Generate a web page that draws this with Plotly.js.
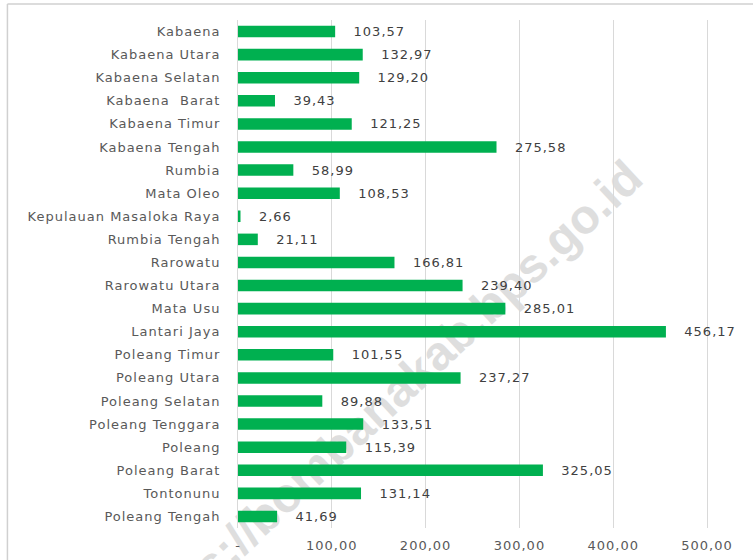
<!DOCTYPE html>
<html>
<head>
<meta charset="utf-8">
<script src="https://cdn.plot.ly/plotly-3.0.1.min.js"></script>
<style>
  html, body { margin: 0; padding: 0; background: #ffffff; }
  #chart { width: 753px; height: 560px; }
  .ytick text, .xtick text, text.bartext { letter-spacing: 1px; }
</style>
</head>
<body>
<div id="chart"></div>
<script>
const categories = [
  'Kabaena', 'Kabaena Utara', 'Kabaena Selatan', 'Kabaena  Barat', 'Kabaena Timur',
  'Kabaena Tengah', 'Rumbia', 'Mata Oleo', 'Kepulauan Masaloka Raya', 'Rumbia Tengah',
  'Rarowatu', 'Rarowatu Utara', 'Mata Usu', 'Lantari Jaya', 'Poleang Timur',
  'Poleang Utara', 'Poleang Selatan', 'Poleang Tenggara', 'Poleang', 'Poleang Barat',
  'Tontonunu', 'Poleang Tengah'
];
const values = [
  103.57, 132.97, 129.20, 39.43, 121.25,
  275.58, 58.99, 108.53, 2.66, 21.11,
  166.81, 239.40, 285.01, 456.17, 101.55,
  237.27, 89.88, 133.51, 115.39, 325.05,
  131.14, 41.69
];
const tickValues = [0, 100, 200, 300, 400, 500];
const tickLabels = ['-', '100,00', '200,00', '300,00', '400,00', '500,00'];
const watermark = 'https://bombanakab.bps.go.id';

const trace = {
  type: 'bar',
  orientation: 'h',
  x: values,
  y: categories,
  marker: { color: '#00B050' },
  texttemplate: '\u00a0\u00a0\u00a0%{x:.2f}',
  textposition: 'outside',
  constraintext: 'none',
  cliponaxis: false,
  textfont: { family: 'DejaVu Sans', size: 13, color: '#404040' },
  hoverinfo: 'none'
};

const layout = {
  width: 753,
  height: 560,
  margin: { l: 238, r: 0, t: 20, b: 32, pad: 0 },
  paper_bgcolor: '#ffffff',
  plot_bgcolor: '#ffffff',
  separators: ',.',
  showlegend: false,
  bargap: 0.5,
  font: { family: 'DejaVu Sans', size: 13, color: '#595959' },
  xaxis: {
    range: [0, 549],
    tickvals: tickValues,
    ticktext: tickLabels,
    showgrid: true,
    gridcolor: '#d9d9d9',
    gridwidth: 1,
    zeroline: false,
    showline: false,
    ticks: '',
    ticklabelstandoff: 8,
    tickfont: { family: 'DejaVu Sans', size: 13, color: '#595959' },
    fixedrange: true
  },
  yaxis: {
    autorange: 'reversed',
    showgrid: false,
    zeroline: false,
    showline: true,
    linecolor: '#d9d9d9',
    linewidth: 1,
    ticks: '',
    ticklabelstandoff: 14,
    tickfont: { family: 'DejaVu Sans', size: 13, color: '#595959' },
    fixedrange: true
  },
  shapes: [
    {
      type: 'rect', xref: 'paper', yref: 'paper',
      x0: 0.1, x1: 0.456, y0: 0.05, y1: 0.46,
      line: { width: 0 }, fillcolor: 'rgba(0,0,0,0)', layer: 'below',
      label: {
        text: watermark,
        textangle: -43,
        textposition: 'middle center',
        font: { family: 'Liberation Sans', size: 48, color: '#dedede', weight: 'bold' }
      }
    },
    {
      type: 'line', xref: 'paper', yref: 'paper',
      x0: -0.4477, x1: 1.0, y0: 1.0315, y1: 1.0315,
      line: { color: '#d0d0d0', width: 1.5 }
    },
    {
      type: 'line', xref: 'paper', yref: 'paper',
      x0: -0.4477, x1: -0.4477, y0: 1.0315, y1: -0.07,
      line: { color: '#d0d0d0', width: 1.5 }
    }
  ]
};

Plotly.newPlot('chart', [trace], layout, { displayModeBar: false, staticPlot: true });
</script>
</body>
</html>
